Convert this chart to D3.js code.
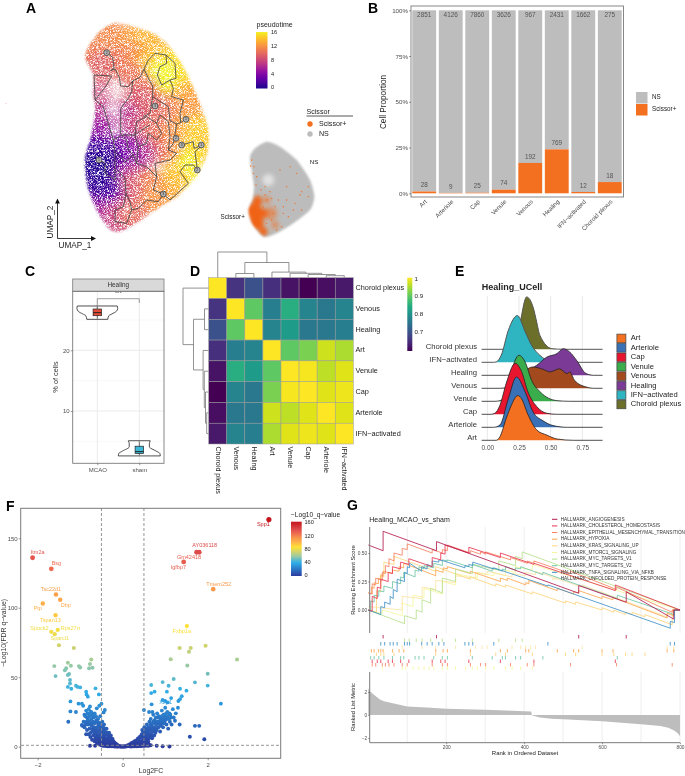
<!DOCTYPE html>
<html><head><meta charset="utf-8">
<style>
html,body{margin:0;padding:0;background:#fff}
svg{display:block;filter:blur(0.4px)}
text{font-family:"Liberation Sans",Arial,sans-serif}
</style>
<script src="https://cdn.jsdelivr.net/npm/d3@7/dist/d3.min.js"></script>
</head><body><div id="c"></div>
<script>
const blobOutline=[[345,68],[310,85],[285,110],[262,145],[255,175],[270,205],[280,230],[278,280],[285,320],[280,370],[270,420],[255,470],[255,510],[262,560],[280,610],[300,650],[330,690],[360,695],[400,675],[440,650],[490,615],[540,585],[590,530],[620,470],[627,410],[620,365],[600,310],[575,250],[545,190],[510,140],[470,105],[420,85],[380,72]];
const pseudoAnchors=[[330,100,11.5],[300,130,11.5],[275,165,11],[350,130,11.5],[400,115,12.5],[440,120,13.5],[480,150,13.5],[395,170,11],[340,190,10.5],[300,200,9.5],[420,180,12],[460,190,14],[510,190,15],[540,230,15],[500,270,15],[490,225,16],[560,290,13],[590,320,12.5],[540,340,12],[480,320,10.5],[430,270,10],[390,230,10.5],[440,320,9.5],[400,300,9],[350,280,9],[300,290,8],[310,350,6.5],[370,350,6.5],[420,380,8],[470,380,10],[520,400,11.5],[570,390,13],[605,390,14.5],[605,450,14],[575,460,15],[560,520,15.5],[540,500,16],[520,540,14],[500,450,12],[460,450,10],[420,460,6.5],[370,440,4.5],[385,490,4.5],[350,480,3.5],[300,400,5],[360,540,4.5],[410,530,7],[450,550,11],[500,590,13],[460,600,12],[420,600,12],[385,570,9],[340,600,6.5],[300,610,5],[340,650,7],[370,670,8],[400,640,10],[320,560,2],[285,550,1],[320,460,1.5],[285,450,1.5],[275,490,.5],[300,500,.3]];
const sparseAreas=[[350,270,32],[340,330,26],[350,385,20],[300,280,14]];
const trajectory=[
[[320,158],[338,172],[342,205],[332,212],[345,207],[358,232],[362,258],[385,260],[398,243],[395,275],[385,295],[362,325],[362,402]],
[[398,243],[420,232],[432,207],[445,235],[458,258],[458,290],[450,340],[430,350]],
[[432,207],[445,180],[465,160],[498,165],[525,190],[528,235],[510,240],[520,265],[515,290],[550,300],[540,340],[542,368],[555,358]],
[[498,165],[500,190],[480,200],[472,225],[485,255],[510,240]],
[[458,290],[505,320],[510,362],[530,372],[542,368]],
[[530,372],[520,430],[505,450],[530,460],[510,480],[465,490],[470,530],[440,500],[410,490],[400,465],[375,485],[350,460]],
[[545,435],[580,425],[582,445],[605,437],[585,455],[592,510],[580,495],[555,495],[540,515],[565,550],[510,600],[490,582],[475,605],[440,600],[415,625],[395,630],[390,605],[378,580],[375,535],[352,510]],
[[345,650],[345,630],[370,620],[378,580]],[[345,650],[345,665],[380,670],[395,630]],
[[297,480],[315,490],[315,520],[345,540],[345,460],[340,420],[325,370],[310,320],[285,300],[282,225],[335,228],[318,258],[285,300]],
[[340,420],[365,405],[405,405],[410,365],[440,350],[470,370],[480,345],[505,365],[510,410],[505,450]],
[[405,405],[415,440],[440,430],[445,400],[470,420],[485,400],[470,370]],[[405,405],[425,390],[450,375]],
[[365,405],[380,420],[385,450],[400,465]],[[415,440],[410,490]],[[470,530],[460,570],[490,582]]];
const trajNodes=[[320,158,"2"],[297,480,"1"],[465,318,"3"],[558,358,"1"],[528,415,"2"],[545,435,"3"],[604,435,"1"],[592,510,"2"],[490,582,"3"]];
const pseudoTicks=[0,4,8,12,16];

const smallOutline=[[800,425],[765,445],[750,470],[755,510],[762,560],[758,595],[745,630],[755,670],[790,711],[830,700],[880,670],[930,630],[943,590],[930,540],[890,480],[840,440]];
const orangeMass=[[762,635,26],[772,603,15],[770,668,22],[790,695,13],[790,640,14]];
const orangePale=[[812,640,20],[800,600,12],[825,675,12]];
const orangeSpecks=[[755,480],[752,498],[760,520],[768,555],[775,590],[900,585],[880,630],[850,640],[835,600],[860,560],[890,520],[905,575],[820,640],[800,600],[815,660],[790,620],[800,670],[845,680],[865,650],[925,590],[885,610],[830,690],[905,630],[850,620],[840,510],[870,500],[925,560],[810,575],[795,560],[825,620],[860,600],[762,500],[770,530],[783,570],[795,585],[815,595]];
const scissorLabels=["Scissor+","NS"];

/* ---------- B ---------- */
const cellTypes=["Art","Arteriole","Cap","Venule","Venous","Healing","IFN\u2212activated","Choroid plexus"];
const nsCounts=[2851,4126,7860,3626,967,2431,1662,275];
const scissorCounts=[28,9,25,74,192,769,12,18];
const propTicks=[0,.25,.5,.75,1];

/* ---------- C ---------- */
const groupsC=["MCAO","sham"];
const violinMCAO=[[25.1,.5],[25.7,.55],[26,.7],[26.4,.9],[26.9,.97],[27.3,.95]];
const violinSham=[[2.6,1],[3.0,.98],[3.4,.8],[4.1,.48],[4.6,.48],[5.1,.52]];
const boxMCAO=[25.2,25.7,26.2,26.8,27.2];
const boxSham=[2.7,3.0,3.3,4.2,5.0];

/* ---------- D ---------- */
const heatLabels=["Choroid plexus","Venous","Healing","Art","Venule","Cap","Arteriole","IFN\u2212activated"];
const heatValues=[
[1,.66,.70,.655,.62,.60,.615,.625],
[.66,1,.90,.77,.85,.78,.76,.78],
[.70,.90,1,.78,.82,.76,.76,.77],
[.655,.77,.78,1,.90,.92,.97,.95],
[.62,.85,.82,.90,1,.995,.96,.98],
[.60,.78,.76,.92,.995,1,.98,.99],
[.615,.76,.76,.97,.96,.98,1,.98],
[.625,.78,.77,.95,.98,.99,.98,1]];
const heatTree=[25.5,[0],[15,[4,[1],[2]],[5.4,[3],[4.2,[4],[3,[5],[1.8,[6],[7]]]]]]];
const heatTicks=[.7,.8,.9,1];

/* ---------- E ---------- */
const ridgeNames=["Art","Arteriole","Cap","Venule","Venous","Healing","IFN\u2212activated","Choroid plexus"];
const ridgeColors=["#f37021","#3a70b5","#e8152f","#3bac4b","#a24a1e","#7c3a97","#2fb5c2","#6b6f2a"];
const ridgeArt=[[-.045,0],[.07,0],[.10,.28],[.15,1.7],[.19,2.7],[.24,3.44],[.27,3.2],[.32,2],[.39,.8],[.47,.4],[.55,.1],[.68,0],[.91,0]];
const ridgeArteriole=[[-.045,0],[.05,0],[.10,.18],[.166,2.2],[.23,3.87],[.30,2.7],[.36,1.2],[.44,.5],[.52,.13],[.63,0],[.91,0]];
const ridgeCap=[[-.045,0],[.03,0],[.06,.08],[.10,.7],[.15,2.4],[.22,3.92],[.27,3.3],[.32,1.75],[.39,.6],[.47,.08],[.55,0],[.91,0]];
const ridgeVenule=[[-.045,0],[.06,0],[.10,.05],[.15,.46],[.19,2.25],[.25,3.54],[.30,3],[.35,1.6],[.42,.7],[.55,.05],[.65,0],[.91,0]];
const ridgeVenous=[[-.045,0],[.1,0],[.18,.1],[.25,.6],[.32,1.5],[.36,1.64],[.44,1.46],[.495,1.26],[.57,1.5],[.63,1.13],[.65,1.26],[.69,.6],[.78,.1],[.84,0],[.91,0]];
const ridgeHealing=[[-.045,0],[.15,0],[.25,.1],[.39,.77],[.47,1.4],[.55,1.67],[.6,2.05],[.65,1.8],[.705,1.15],[.78,.13],[.84,0],[.91,0]];
const ridgeIFN=[[-.045,0],[.05,0],[.07,.03],[.11,.54],[.166,2.46],[.237,3.6],[.3,2.33],[.35,1.3],[.415,.54],[.495,.08],[.57,0],[.91,0]];
const ridgeChoroid=[[-.045,0],[.17,0],[.2,.1],[.23,.8],[.26,2.1],[.31,4.03],[.363,3.2],[.39,2.1],[.415,1.08],[.51,.05],[.6,0],[.91,0]];
const ridgeSeries=[ridgeArt,ridgeArteriole,ridgeCap,ridgeVenule,ridgeVenous,ridgeHealing,ridgeIFN,ridgeChoroid];
const ridgeTicks=[0,.25,.5,.75];

/* ---------- F ---------- */
const volcanoHigh=[[3.44,163.5],[1.74,140],[1.80,140],[1.435,133],[2.13,113.4],[1.51,86.8],[-2.12,136],[-1.68,128],[-1.57,109.6],[-1.47,105.8],[-1.88,103],[-1.58,94.7],[-1.68,82.7],[-1.53,84],[-1.6,81],[-1.5,73],[-1.15,71]];
const volcanoMid=[[1.34,71],[1.6,71],[1.56,68.3],[1.95,72.7],[1.13,63],[2.69,62.8],[1.52,58.5],[2.0,52.5],[1.2,48.7],[-1.61,58],[-1.29,60.4],[-1.22,58.3],[-1.36,55],[-1.33,56.4],[-1.03,58],[-1,57],[-.74,62.8],[-.77,59.5],[-.71,56.8],[-.79,56.4],[-1.58,50.8],[-1.26,52.3],[-1.29,51.6],[-1.24,48],[-1.24,45.5],[-1.29,43],[-1.21,41.7],[-1.1,43.9],[-1.06,43],[-1,42.7],[-.86,39.6],[-.85,37.6],[-.82,36],[-.64,42],[-.56,37.6],[-1.23,32.6],[.67,44.4],[.94,46.5],[1.08,43.9],[.67,38.6],[.75,39.6],[1.04,39.6],[1.35,41.7],[1.5,40.3],[1.7,46.3],[2,44],[1.39,36.4],[1.35,34.3],[1.31,32.9],[1.14,35],[.94,33.6],[1,32.9],[1.06,31.9],[2.31,31],[.68,30.5],[.5,26.4],[.62,25],[.7,25]];
const volcanoLowLeft=[[-1.28,18],[-1.23,25.4],[-1.1,25],[-1.04,31],[-.96,31],[-.93,29.5],[-.77,29],[-.5,31],[-.55,29.5],[-.61,27.6],[-.42,26.4],[-.45,24.7],[-.96,15.6],[-.86,8.9],[-.77,.7],[-.65,.7],[-.95,15],[-.9,14],[-.88,22],[-.86,26],[-.85,18],[-.84,12],[-.83,24],[-.82,20],[-.81,16],[-.8,27],[-.79,22],[-.78,13],[-.77,18],[-.76,25],[-.75,10],[-.74,20],[-.73,15],[-.72,23],[-.71,12],[-.7,18],[-.69,8],[-.68,21],[-.67,14],[-.66,10],[-.65,17],[-.64,6],[-.63,12],[-.62,19],[-.61,9],[-.6,14],[-.59,5],[-.58,11],[-.57,16],[-.56,7],[-.55,12],[-.54,3],[-.53,9],[-.52,14],[-.51,6],[-.5,10],[-.49,4],[-.48,12],[-.47,8],[-.46,2],[-.45,6],[-.44,10],[-.43,3],[-.42,7],[-.41,13],[-.4,5],[-.39,2],[-.38,9],[-.37,4],[-.36,6],[-.35,1.5],[-.34,5],[-.33,3],[-.32,7],[-.31,1],[-.3,4],[-.29,2.5],[-.28,5],[-.27,1],[-.26,3],[-.25,2],[-.24,3.5],[-.23,1],[-.22,2],[-.21,.7],[-.2,1.5],[-.18,1],[-.16,.5],[-.14,1],[-.12,.4],[-.1,.3],[-.08,.4],[-.06,.2],[-.04,.2],[-.02,.1],[-.72,5],[-.66,4],[-.6,2.5],[-.55,1.5],[-.5,1],[-.47,.6],[-.43,.6],[-.39,.5],[-.35,.4],[-.31,.3],[-.27,.3],[-.23,.3],[-.19,.2],[-.15,.2],[-.52,2],[-.48,1.6],[-.44,1.2],[-.4,1],[-.36,.8],[-.33,1],[-.76,7],[-.8,9],[-.58,8],[-.62,4],[-.68,11]];
const volcanoExtraLeft=[[-.92,18],[-.9,23],[-.87,16],[-.84,21],[-.8,18],[-.78,24],[-.74,25],[-.7,22],[-.68,17],[-.66,24],[-.63,22],[-.6,18],[-.58,20],[-.55,17],[-.53,22],[-.5,15],[-.48,18],[-.46,14],[-.44,16],[-.42,11],[-.4,9],[-.38,13],[-.36,10],[-.34,8],[-.32,10],[-.3,7],[-.28,8],[-.26,6],[-.24,5.5],[-.22,4],[-.2,3],[-.18,2.5],[-.16,2],[-.14,1.5],[-.12,1],[-.56,4],[-.5,5],[-.46,4],[-.42,4.5],[-.38,3],[-.34,2.5],[-.3,2],[-.26,1.5],[-.22,.8],[-.18,.5],[-.12,.2],[-.62,7],[-.7,13],[-.74,16],[-.65,11],[-.54,6]];
const volcanoLowRight=[[1.7,15],[1.8,15],[1.58,7.2],[1.92,5.3],[1.34,16],[1.23,18.7],[1.11,18],[.94,.3],[1.1,.2],[.8,.7],[.6,.7],[0,.1],[.02,.1],[.04,.2],[.06,.2],[.08,.3],[.1,.3],[.12,.5],[.14,.7],[.16,.4],[.18,1],[.2,1.2],[.22,.6],[.24,1.7],[.26,2.4],[.28,1.1],[.3,3],[.32,1.6],[.34,4],[.36,2.2],[.38,5],[.4,3],[.42,7],[.43,1],[.44,4],[.45,9],[.46,2],[.47,6],[.48,11],[.49,3],[.5,8],[.51,14],[.52,5],[.53,10],[.54,2],[.55,7],[.56,12],[.57,16],[.58,4],[.59,9],[.6,14],[.61,6],[.62,11],[.63,18],[.64,8],[.65,13],[.66,20],[.67,9],[.68,15],[.69,6],[.7,11],[.71,17],[.72,23],[.73,13],[.74,8],[.75,19],[.76,14],[.77,10],[.78,21],[.79,16],[.8,12],[.81,24],[.82,18],[.84,14],[.85,22],[.86,17],[.88,11],[.89,20],[.9,15],[.92,26],[.93,19],[.95,14],[.96,23],[.98,17],[1,28],[1.01,21],[1.03,16],[1.05,25],[1.07,13],[1.09,20],[1.12,23],[1.15,16],[1.18,27],[1.2,21],[1.25,24],[1.3,28],[.66,1],[.62,1],[.56,.8],[.52,.7],[.48,.6],[.44,.5],[.4,.5],[.36,.4],[.32,.3],[.28,.3],[.24,.3],[.2,.2],[.58,2],[.54,1.6],[.5,1.4],[.46,1],[.42,.9],[.38,1]];
const volcanoExtraRight=[[.12,1],[.16,1.6],[.2,2.4],[.24,3],[.28,4],[.32,4.5],[.36,6],[.4,7],[.44,8],[.46,12],[.48,7],[.5,4],[.52,9],[.54,13],[.56,5],[.58,11],[.6,4],[.62,8],[.64,12],[.66,16],[.68,7],[.7,14],[.72,18],[.74,11],[.76,17],[.78,12],[.8,17],[.82,21],[.84,18],[.86,21],[.88,16],[.9,19],[.92,22],[.94,17],[.96,20],[.98,22],[1,19],[1.02,24],[1.04,20],[1.06,22],[1.1,24],[1.14,21],[.3,1.4],[.36,1.2],[.42,2.5],[.48,2],[.54,3],[.6,2.5],[.5,2.8],[.34,2.4],[.4,1.6]];
const volcanoLabels=[["Spp1",3.31,159.9,163.5],["AY036118",1.93,144.9,140],["Gm42418",1.56,136.4,133],["Igfbp7",1.31,129,133],["Tmem252",2.26,116.8,113.4],["Fxbp1a",1.39,82.7,86.8],["Itm2a",-2,139.8,136],["Bsg",-1.56,131.7,128],["Tsc22d1",-1.69,113.2,109.6],["Dbp",-1.34,101.9,105.8],["Ptp",-2,99.5,103],["Tspan13",-1.7,90.9,94.7],["Spock2",-1.96,84.7,82.7],["Rps27rt",-1.23,84.7,84],["Sparcl1",-1.48,77.5,81],["Xbp1",1.01,31.7,36]];
const qStops=[0,20,40,60,73,87,105,113,128,140,163];
const qColors=["#2c3b9e","#2a76c6","#30aee8","#9fcba0","#d2d36a","#ffe135","#ffa94d","#f79a4a","#ef6a50","#dd4b4b","#c4161c"];
const qTicks=[0,40,80,120,160];

/* ---------- G ---------- */
const gseaNames=["HALLMARK_ANGIOGENESIS","HALLMARK_CHOLESTEROL_HOMEOSTASIS","HALLMARK_EPITHELIAL_MESENCHYMAL_TRANSITION","HALLMARK_HYPOXIA","HALLMARK_KRAS_SIGNALING_UP","HALLMARK_MTORC1_SIGNALING","HALLMARK_MYC_TARGETS_V1","HALLMARK_MYC_TARGETS_V2","HALLMARK_TNFA_SIGNALING_VIA_NFKB","HALLMARK_UNFOLDED_PROTEIN_RESPONSE"];
const gseaColors=["#b2184f","#e8334f","#f8805f","#fba44a","#fdd47a","#f5f79b","#b7e08a","#6cc4a4","#3d8fc6","#fde3a4"];
const esAngio=[[0,.57],[38,.52],[38,.69],[175,.52],[175,.60],[540,.147],[540,.215],[662,.068],[662,.16],[784,-.08],[784,0],[800,0]];
const esChol=[[0,0],[10,-.01],[10,.12],[23,.10],[23,.20],[32,.19],[32,.27],[51,.25],[51,.33],[62,.32],[62,.38],[83,.36],[83,.42],[104,.40],[104,.45],[164,.38],[164,.46],[186,.44],[186,.50],[197,.49],[197,.57],[258,.50],[258,.55],[339,.46],[339,.50],[425,.40],[425,.41],[634,.17],[634,.22],[800,0]];
const esEMT=[[0,.15],[10,.14],[10,.23],[19,.22],[19,.28],[36,.26],[36,.33],[44,.32],[44,.39],[53,.38],[53,.45],[66,.43],[66,.50],[87,.48],[87,.54],[100,.53],[100,.58],[164,.50],[164,.53],[190,.50],[190,.53],[203,.52],[203,.57],[262,.50],[262,.52],[288,.49],[288,.51],[301,.49],[301,.51],[365,.44],[365,.46],[408,.41],[408,.43],[425,.41],[425,.43],[519,.32],[519,.34],[637,.18],[637,.20],[780,-.02],[780,0],[800,0]];
const esHypoxia=[[0,.15],[8,.14],[8,.20],[15,.19],[15,.24],[26,.23],[26,.28],[32,.27],[32,.31],[38,.30],[38,.34],[62,.32],[62,.35],[79,.34],[79,.38],[91,.37],[91,.41],[173,.30],[173,.35],[192,.33],[192,.37],[203,.36],[203,.38],[262,.32],[262,.34],[339,.25],[339,.28],[357,.26],[357,.28],[404,.22],[404,.24],[412,.23],[412,.26],[485,.17],[485,.19],[527,.14],[527,.16],[540,.15],[540,.17],[600,.10],[600,.12],[628,.09],[628,.11],[767,-.07],[767,-.03],[784,-.05],[784,.01],[800,0]];
const esKras=[[0,0],[21,-.02],[21,.17],[32,.16],[32,.30],[40,.29],[40,.42],[66,.40],[66,.47],[173,.34],[173,.38],[262,.27],[262,.29],[327,.21],[327,.23],[352,.20],[352,.22],[421,.14],[421,.16],[506,.06],[506,.08],[532,.05],[532,.07],[600,0],[600,.02],[630,-.02],[630,0],[660,-.04],[660,-.02],[677,-.04],[677,-.02],[710,-.06],[710,-.04],[780,-.13],[780,0],[800,0]];
const esMtorc=[[0,0],[36,-.03],[36,0],[87,-.05],[87,.06],[115,.03],[115,.13],[143,.11],[143,.19],[190,.14],[190,.25],[224,.22],[224,.32],[280,.28],[280,.33],[322,.30],[322,.33],[352,.30],[352,.35],[378,.33],[378,.38],[421,.35],[421,.40],[800,0]];
const esMyc1=[[0,0],[93,-.12],[93,-.05],[123,-.08],[123,0],[138,-.02],[138,.09],[160,.06],[160,.19],[190,.15],[190,.28],[224,.25],[224,.36],[267,.32],[267,.40],[335,.35],[335,.43],[378,.39],[378,.47],[395,.45],[395,.51],[785,.02],[800,0]];
const esMyc2=[[0,0],[6,-.01],[6,.08],[15,.07],[15,.13],[27,.12],[27,.17],[40,.16],[40,.21],[62,.19],[62,.25],[83,.23],[83,.29],[91,.28],[91,.33],[120,.29],[120,.35],[130,.34],[130,.38],[143,.36],[143,.39],[168,.37],[168,.41],[190,.39],[190,.44],[203,.43],[203,.44],[267,.37],[267,.40],[318,.34],[318,.37],[344,.34],[344,.36],[352,.35],[352,.38],[378,.35],[378,.37],[391,.36],[391,.38],[448,.31],[448,.33],[639,.10],[639,.13],[785,-.04],[785,0],[800,0]];
const esTnfa=[[0,0],[32,-.04],[32,.03],[42,.02],[42,.07],[56,.05],[56,.12],[64,.10],[64,.18],[74,.16],[74,.27],[93,.25],[93,.33],[100,.32],[100,.38],[106,.37],[106,.41],[137,.34],[137,.38],[151,.36],[151,.40],[164,.38],[164,.43],[181,.42],[181,.44],[194,.43],[248,.37],[248,.39],[258,.38],[258,.40],[268,.39],[268,.42],[322,.36],[322,.37],[461,.21],[461,.22],[775,-.16],[775,-.10],[786,-.11],[786,0],[800,0]];
const esUnfolded=[[0,.03],[87,0],[87,.12],[138,.10],[138,.20],[173,.18],[173,.26],[224,.24],[224,.30],[275,.28],[275,.33],[305,.31],[305,.34],[369,.29],[369,.32],[404,.30],[404,.33],[429,.31],[429,.34],[549,.20],[549,.22],[767,-.06],[767,-.02],[784,-.04],[784,0],[800,0]];
const esSeries=[esAngio,esChol,esEMT,esHypoxia,esKras,esMtorc,esMyc1,esMyc2,esTnfa,esUnfolded];
const rugRows=[
{c:"#b2184f",r:[38,175,540,662]},
{c:"#b7e08a",r:[93,105,123,138,160,190,224,267,335,378,395]},
{c:"#3d8fc6",r:[32,42,56,64,74,93,100,106,137,151,164,181,194,248,258,268,322,461,775,786]},
{c:"#fde3a4",r:[87,138,173,224,275,292,305,369,391,404,416,429,549,767,784]},
{c:"#fba44a",r:[8,15,26,32,38,62,79,91,173,192,203,262,339,357,404,412,485,527,540,600,628,767,784]},
{c:"#fdd47a",r:[21,32,40,66,173,262,327,352,421,506,532,600,630,660,677,710]},
{c:"#6cc4a4",r:[6,15,27,40,62,83,91,120,130,143,168,190,203,267,318,344,352,378,391,448,639]},
{c:"#e8334f",r:[10,23,32,51,62,83,104,164,186,197,258,339,425,634]},
{c:"#f8805f",r:[10,19,36,44,53,66,87,100,164,190,203,262,288,301,365,408,425,519,637,780]},
{c:"#f5f79b",r:[36,87,96,115,130,143,156,168,190,203,224,250,267,280,301,322,352,369,391,421]}];
const metricRanks=[0,5,10,20,30,40,60,80,100,150,200,300,400,418,420,440,470,500,600,700,750,770,785,795,800];
const metricValues=[2.3,2.05,1.9,1.6,1.35,1.2,1.05,.9,.75,.65,.55,.45,.33,.3,-.02,-.22,-.32,-.38,-.55,-.8,-.95,-1.1,-1.35,-1.6,-1.85];
const esTicks=[0,.25,.5],metricTicks=[-2,0,2],rankTicks=[200,400,600,800];

/* ---------- drawing ---------- */
const W=685,H=776;
const svg=d3.select("#c").append("svg").attr("width",W).attr("height",H).attr("viewBox",`0 0 ${W} ${H}`);
const defs=svg.append("defs");
const TXT="#4d4d4d",FRAME="#7a7a7a";
function t(g,x,y,s,o={}){
  const e=g.append("text").attr("x",x).attr("y",y).text(s)
   .attr("font-size",o.size||6).attr("fill",o.fill||"#222").attr("text-anchor",o.anchor||"start")
   .attr("dominant-baseline",o.base||"middle");
  if(o.weight)e.attr("font-weight",o.weight);
  if(o.rot!=null)e.attr("transform",`rotate(${o.rot} ${x} ${y})`);
  return e;
}
function styleAxis(a,size){a.select(".domain").remove();a.selectAll("text").attr("font-size",size||5.5).attr("fill",TXT).attr("font-family",'"Liberation Sans",Arial,sans-serif');a.selectAll("line").attr("stroke","#555").attr("stroke-width",.6);return a;}

/* panel letters */
[["A",26,13],["B",368,13],["C",25,276],["D",190,276],["E",455,276],["F",6,511],["G",347,510]].forEach(d=>t(svg,d[1],d[2],d[0],{size:14,weight:"bold",fill:"#000",base:"auto"}));

/* A */
const ua=d3.scaleLinear().domain([0,360]).range([0,120]), va=d3.scaleLinear().domain([0,260]).range([0,86.67]);
const closed=d3.line().x(d=>ua(d[0])).y(d=>va(d[1])).curve(d3.curveCardinalClosed.tension(.3));
const plasma=d3.scaleSequential(d3.interpolatePlasma).domain([-0.3,16.3]);
const noiseFilter=(id,freq,a,b)=>{
  const f=defs.append("filter").attr("id",id).attr("x",0).attr("y",0).attr("width",W).attr("height",H).attr("filterUnits","userSpaceOnUse").attr("primitiveUnits","userSpaceOnUse");
  f.append("feTurbulence").attr("type","fractalNoise").attr("baseFrequency",freq).attr("numOctaves",1).attr("seed",7).attr("result","n");
  f.append("feColorMatrix").attr("in","n").attr("type","matrix").attr("values",`0 0 0 0 0 0 0 0 0 0 0 0 0 0 0 ${a} 0 0 0 ${b}`).attr("result","m");
  f.append("feGaussianBlur").attr("in","m").attr("stdDeviation",.35).attr("result","ms");
  f.append("feComposite").attr("in","SourceGraphic").attr("in2","ms").attr("operator","in");
};
noiseFilter("speckle",1.7,4,-1.25);
const blurF=(id,s)=>defs.append("filter").attr("id",id).attr("x","-30%").attr("y","-30%").attr("width","160%").attr("height","160%").append("feGaussianBlur").attr("stdDeviation",s);
blurF("b5",5);blurF("b1",1.1);blurF("b3",2.2);
const m1=defs.append("mask").attr("id","mBlob").attr("maskUnits","userSpaceOnUse").attr("x",0).attr("y",0).attr("width",W).attr("height",H);
m1.append("path").attr("d",closed(blobOutline)).attr("fill","#fff").attr("filter","url(#b1)");
const gA=svg.append("g");
const cloud=gA.append("g").attr("mask","url(#mBlob)").append("g").attr("filter","url(#speckle)");
const cb=cloud.append("g").attr("filter","url(#b5)");
cb.selectAll("circle").data(pseudoAnchors).join("circle").attr("cx",d=>ua(d[0])).attr("cy",d=>va(d[1])).attr("r",15).attr("fill",d=>plasma(d[2]));
gA.append("g").attr("filter","url(#b5)").selectAll("circle").data(sparseAreas).join("circle").attr("cx",d=>ua(d[0])).attr("cy",d=>va(d[1])).attr("r",d=>ua(d[2])).attr("fill","#fff").attr("opacity",.72);
const lineA=d3.line().x(d=>ua(d[0])).y(d=>va(d[1]));
gA.append("g").selectAll("path").data(trajectory).join("path").attr("d",lineA).attr("fill","none").attr("stroke","#474747").attr("stroke-width",.85).attr("stroke-linejoin","round");
const nodeG=gA.append("g").selectAll("g").data(trajNodes).join("g");
nodeG.append("circle").attr("cx",d=>ua(d[0])).attr("cy",d=>va(d[1])).attr("r",2.9).attr("fill","#b5b5b5").attr("stroke","#333").attr("stroke-width",.7);
nodeG.append("text").attr("x",d=>ua(d[0])).attr("y",d=>va(d[1])).attr("text-anchor","middle").attr("dominant-baseline","middle").attr("font-size",3.5).attr("fill","#222").text(d=>d[2]);
t(gA,6,102.5,"..",{size:5,fill:"#e88ab0",anchor:"middle"});
const arrow=(x1,y1,x2,y2)=>{gA.append("line").attr("x1",x1).attr("y1",y1).attr("x2",x2).attr("y2",y2).attr("stroke","#222").attr("stroke-width",.9);};
arrow(57.5,238.5,57.5,201);arrow(57.5,238.5,93,238.5);
gA.append("path").attr("d","M57.5 198.5l-2.4 5h4.8z").attr("fill","#111");
gA.append("path").attr("d","M96 238.5l-5 -2.4v4.8z").attr("fill","#111");
t(gA,50.5,222,"UMAP_2",{size:8.2,anchor:"middle",rot:-90});
t(gA,75,246,"UMAP_1",{size:8.2,anchor:"middle"});
t(gA,256.5,25,"pseudotime",{size:7});
const psGrad=defs.append("linearGradient").attr("id","psG").attr("x1",0).attr("x2",0).attr("y1",1).attr("y2",0);
d3.range(0,1.001,.1).forEach(o=>psGrad.append("stop").attr("offset",o).attr("stop-color",plasma(o*16)));
gA.append("rect").attr("x",256).attr("y",32).attr("width",11.5).attr("height",56.5).attr("fill","url(#psG)");
const psY=d3.scaleLinear().domain([0,16]).range([88,32.5]);
pseudoTicks.forEach(v=>t(gA,271,psY(v),v,{size:5.6,fill:"#222"}));
/* small UMAP */
const sB=gA.append("g");
defs.append("mask").attr("id","mSmall").attr("maskUnits","userSpaceOnUse").attr("x",0).attr("y",0).attr("width",W).attr("height",H).append("path").attr("d",closed(smallOutline)).attr("fill","#fff").attr("filter","url(#b1)");
const sIn=sB.append("g").attr("mask","url(#mSmall)");
sIn.append("rect").attr("x",240).attr("y",130).attr("width",80).attr("height",115).attr("fill","#bcbcbc");
sIn.append("circle").attr("cx",ua(805)).attr("cy",va(540)).attr("r",6).attr("fill","#fff").attr("opacity",.55).attr("filter","url(#b3)");
sIn.append("g").attr("filter","url(#b3)").attr("opacity",.55).selectAll("circle").data(orangePale).join("circle").attr("cx",d=>ua(d[0])).attr("cy",d=>va(d[1])).attr("r",d=>ua(d[2])).attr("fill","#f37021");
sIn.append("g").attr("filter","url(#b3)").selectAll("circle").data(orangeMass).join("circle").attr("cx",d=>ua(d[0])).attr("cy",d=>va(d[1])).attr("r",d=>ua(d[2])).attr("fill","#f06414");
sB.append("g").selectAll("circle").data(orangeSpecks).join("circle").attr("cx",d=>ua(d[0])).attr("cy",d=>va(d[1])).attr("r",.7).attr("fill","#f37021");
t(gA,314,162.5,"NS",{size:6.2,anchor:"middle"});
t(gA,232.7,217.5,"Scissor+",{size:6.3,anchor:"middle"});
t(gA,306.5,112,"Scissor",{size:7.1});
gA.append("line").attr("x1",306.5).attr("x2",353).attr("y1",116).attr("y2",116).attr("stroke","#444").attr("stroke-width",.9);
scissorLabels.forEach((s,i)=>{const y=124+i*10;gA.append("circle").attr("cx",310).attr("cy",y).attr("r",2.7).attr("fill",i?"#bcbcbc":"#f37021");t(gA,319,y,s,{size:7.1});});

/* B */
const gB=svg.append("g");
const xB=d3.scaleBand().domain(cellTypes).range([411.5,622.5]).paddingInner(.1).paddingOuter(.03);
const yB=d3.scaleLinear().domain([0,1]).range([193.3,10.3]);
const totals=nsCounts.map((n,i)=>n+scissorCounts[i]);
gB.selectAll(".ns").data(cellTypes).join("rect").attr("x",d=>xB(d)).attr("width",xB.bandwidth()).attr("y",yB(1)).attr("height",(d,i)=>yB(scissorCounts[i]/totals[i])-yB(1)).attr("fill","#bdbdbd");
gB.selectAll(".sc").data(cellTypes).join("rect").attr("x",d=>xB(d)).attr("width",xB.bandwidth()).attr("y",(d,i)=>yB(scissorCounts[i]/totals[i])).attr("height",(d,i)=>yB(0)-yB(scissorCounts[i]/totals[i])).attr("fill","#f37021");
cellTypes.forEach((c,i)=>{
  t(gB,xB(c)+xB.bandwidth()/2,15,nsCounts[i],{size:6.4,anchor:"middle",fill:"#555"});
  t(gB,xB(c)+xB.bandwidth()/2,yB(scissorCounts[i]/totals[i])-6,scissorCounts[i],{size:6.4,anchor:"middle",fill:"#555"});
  t(gB,xB(c)+xB.bandwidth()/2+2,201,c,{size:6.1,anchor:"end",fill:TXT,rot:-45});
});
gB.append("rect").attr("x",411).attr("y",6).attr("width",212.5).attr("height",191).attr("fill","none").attr("stroke",FRAME).attr("stroke-width",.9);
styleAxis(gB.append("g").attr("transform","translate(411,0)").call(d3.axisLeft(yB).tickValues(propTicks).tickFormat(d3.format(".0%")).tickSize(2).tickPadding(1)),6.2);
t(gB,384,102,"Cell Proportion",{size:8.2,anchor:"middle",rot:-90});
[["NS","#bdbdbd",92],["Scissor+","#f37021",104]].forEach(d=>{gB.append("rect").attr("x",636).attr("y",d[2]).attr("width",11.5).attr("height",11.5).attr("fill",d[1]);t(gB,652,d[2]+5.8,d[0],{size:6.3});});

/* C */
const gC=svg.append("g");
const xC=d3.scalePoint().domain(groupsC).range([97.3,139.3]);
const yC=d3.scaleLinear().domain([0,20]).range([471.7,350.3]);
const wC=d3.scaleLinear().domain([0,1]).range([0,21]);
[5,15,25].forEach(v=>gC.append("line").attr("x1",73).attr("x2",164).attr("y1",yC(v)).attr("y2",yC(v)).attr("stroke","#f0f0f0").attr("stroke-width",.5));
[10,20].forEach(v=>gC.append("line").attr("x1",73).attr("x2",164).attr("y1",yC(v)).attr("y2",yC(v)).attr("stroke","#e6e6e6").attr("stroke-width",.8));
groupsC.forEach(g=>gC.append("line").attr("x1",xC(g)).attr("x2",xC(g)).attr("y1",291).attr("y2",463).attr("stroke","#e6e6e6").attr("stroke-width",.8));
[[groupsC[0],violinMCAO,boxMCAO,"#e64b35"],[groupsC[1],violinSham,boxSham,"#3db8d6"]].forEach(d=>{
  const c=xC(d[0]);
  const a=d3.area().y(p=>yC(p[0])).x0(p=>c-wC(p[1])).x1(p=>c+wC(p[1])).curve(d3.curveMonotoneY);
  gC.append("path").attr("d",a(d[1])+"Z").attr("fill","#fff").attr("stroke","#222").attr("stroke-width",.8);
  const b=d[2];
  gC.append("line").attr("x1",c).attr("x2",c).attr("y1",yC(b[0])).attr("y2",yC(b[4])).attr("stroke","#222").attr("stroke-width",.7);
  gC.append("rect").attr("x",c-4.2).attr("width",8.4).attr("y",yC(b[3])).attr("height",yC(b[1])-yC(b[3])).attr("fill",d[3]).attr("stroke","#222").attr("stroke-width",.7);
  gC.append("line").attr("x1",c-4.2).attr("x2",c+4.2).attr("y1",yC(b[2])).attr("y2",yC(b[2])).attr("stroke","#222").attr("stroke-width",1);
});
gC.append("path").attr("d",`M${xC("MCAO")} ${yC(26.6)}V298.7H${xC("sham")}V303`).attr("fill","none").attr("stroke","#777").attr("stroke-width",.7);
t(gC,118.3,293.7,"***",{size:6,anchor:"middle",fill:"#444"});
gC.append("rect").attr("x",72.7).attr("y",279).attr("width",91.3).attr("height",12.3).attr("fill","#d9d9d9").attr("stroke",FRAME).attr("stroke-width",.8);
t(gC,118.3,285.3,"Healing",{size:6.4,anchor:"middle",fill:"#333"});
gC.append("rect").attr("x",72.7).attr("y",291.3).attr("width",91.3).attr("height",172).attr("fill","none").attr("stroke",FRAME).attr("stroke-width",.9);
styleAxis(gC.append("g").attr("transform","translate(72.7,0)").call(d3.axisLeft(yC).tickValues([10,20]).tickSize(2).tickPadding(1)),6);
styleAxis(gC.append("g").attr("transform","translate(0,463.3)").call(d3.axisBottom(xC).tickSize(2).tickPadding(2)),6);
t(gC,56,377,"% of cells",{size:7.3,anchor:"middle",rot:-90,fill:"#333"});

/* D */
const gD=svg.append("g");
const xD=d3.scaleBand().domain(heatLabels).range([208.7,353.3]);
const yD=d3.scaleBand().domain(heatLabels).range([277.7,444]);
const heatC=d3.scaleSequential(d3.interpolateViridis).domain([.6,1]);
heatValues.forEach((row,i)=>gD.append("g").selectAll("rect").data(row).join("rect").attr("x",(d,j)=>xD(heatLabels[j])).attr("y",yD(heatLabels[i])).attr("width",xD.bandwidth()).attr("height",yD.bandwidth()).attr("fill",d=>heatC(d)).attr("stroke","#9a9a9a").attr("stroke-width",.5));
heatLabels.forEach(l=>{
  t(gD,355.5,yD(l)+yD.bandwidth()/2,l,{size:7.3,fill:"#222"});
  t(gD,xD(l)+xD.bandwidth()/2,446.5,l,{size:7.1,fill:"#222",rot:90});
});
function dend(node,pos,g){
  if(node.length===1)return {p:pos(heatLabels[node[0]]),h:0};
  const a=dend(node[1],pos,g),b=dend(node[2],pos,g);
  const h=node[0];
  g(a.p,a.h,b.p,b.h,h);
  return {p:(a.p+b.p)/2,h};
}
const dl=gD.append("g").attr("fill","none").attr("stroke","#777").attr("stroke-width",.8);
const posX=l=>xD(l)+xD.bandwidth()/2,posY=l=>yD(l)+yD.bandwidth()/2;
dend(heatTree,posX,(p1,h1,p2,h2,h)=>dl.append("path").attr("d",`M${p1} ${277.5-h1}V${277.5-h}H${p2}V${277.5-h2}`));
dend(heatTree,posY,(p1,h1,p2,h2,h)=>dl.append("path").attr("d",`M${208.5-h1} ${p1}H${208.5-h}V${p2}H${208.5-h2}`));
const vGrad=defs.append("linearGradient").attr("id","vG").attr("x1",0).attr("x2",0).attr("y1",1).attr("y2",0);
d3.range(0,1.001,.1).forEach(o=>vGrad.append("stop").attr("offset",o).attr("stop-color",d3.interpolateViridis(o)));
gD.append("rect").attr("x",407.3).attr("y",277.7).attr("width",5).attr("height",73.3).attr("fill","url(#vG)");
const yHC=d3.scaleLinear().domain([.6,1]).range([351,277.7]);
heatTicks.forEach(v=>t(gD,414.5,yHC(v)+(v===1?1.5:0),v,{size:6.2,fill:"#222"}));

/* E */
const gE=svg.append("g");
const xE=d3.scaleLinear().domain([0,.75]).range([487.3,582.3]);
const stepE=d3.scaleLinear().domain([0,1]).range([0,13]);
const base=i=>440.3-13*i;
ridgeTicks.forEach(v=>gE.append("line").attr("x1",xE(v)).attr("x2",xE(v)).attr("y1",296).attr("y2",441).attr("stroke","#e8e8e8").attr("stroke-width",1));
d3.range(7,-1,-1).forEach(i=>{
  const b=base(i);
  const a=d3.area().x(p=>xE(p[0])).y0(b).y1(p=>b-stepE(p[1])).curve(d3.curveMonotoneX);
  const l=d3.line().x(p=>xE(p[0])).y(p=>b-stepE(p[1])).curve(d3.curveMonotoneX);
  gE.append("path").attr("d",a(ridgeSeries[i])).attr("fill",ridgeColors[i]);
  gE.append("path").attr("d",l(ridgeSeries[i])).attr("fill","none").attr("stroke",i>=6?"#555":"#222").attr("stroke-width",i>=6?1:.8);
  t(gE,477,b-2.5,ridgeNames[i],{size:7.7,anchor:"end",fill:"#333"});
});
styleAxis(gE.append("g").attr("transform","translate(0,441)").call(d3.axisBottom(xE).tickValues(ridgeTicks).tickFormat(d3.format(".2f")).tickSize(0).tickPadding(4)),6.5);
t(gE,481.7,288,"Healing_UCell",{size:9,weight:"bold",fill:"#222"});
ridgeNames.forEach((n,i)=>{
  const y=338.3+i*9.44;
  gE.append("rect").attr("x",616.9).attr("y",y-4.2).attr("width",9).attr("height",8.6).attr("fill",ridgeColors[i]).attr("stroke","#444").attr("stroke-width",.7);
  t(gE,630.7,y,n,{size:7.6,fill:"#222"});
});

/* F */
const gF=svg.append("g");
const xF=d3.scaleLinear().domain([-2,2]).range([37.7,207.7]);
const yF=d3.scaleLinear().domain([0,150]).range([746.7,538.3]);
const qC=d3.scaleLinear().domain(qStops).range(qColors).clamp(true);
const rF=d3.scaleLinear().domain([0,40,80,165]).range([2,1.9,2.1,2.6]);
const volcano=[...volcanoLowLeft,...volcanoExtraLeft,...volcanoLowRight,...volcanoExtraRight,...volcanoMid,...volcanoHigh].sort((a,b)=>b[1]-a[1]);
gF.selectAll("circle").data(volcano).join("circle").attr("cx",d=>xF(d[0])).attr("cy",d=>yF(d[1])).attr("r",d=>rF(d[1])).attr("fill",d=>qC(d[1]));
[[xF(-.5),xF(-.5),508,758],[xF(.5),xF(.5),508,758],[21,280.7,yF(1),yF(1)]].forEach(d=>gF.append("line").attr("x1",d[0]).attr("x2",d[1]).attr("y1",d[2]).attr("y2",d[3]).attr("stroke","#8a8a8a").attr("stroke-width",.9).attr("stroke-dasharray","3 2"));
volcanoLabels.forEach(d=>t(gF,xF(d[1]),yF(d[2]),d[0],{size:5.5,anchor:"middle",fill:qC(d[3])}));
gF.append("rect").attr("x",20.7).attr("y",508.3).attr("width",260).attr("height",250).attr("fill","none").attr("stroke",FRAME).attr("stroke-width",1);
styleAxis(gF.append("g").attr("transform","translate(20.7,0)").call(d3.axisLeft(yF).tickValues([0,50,100,150]).tickSize(2).tickPadding(1)),6);
styleAxis(gF.append("g").attr("transform","translate(0,758.3)").call(d3.axisBottom(xF).tickValues([-2,0,2]).tickFormat(d=>d<0?"\u2212"+(-d):d).tickSize(2).tickPadding(2)),6);
t(gF,4.5,633,"\u2212Log10(FDR q\u2212value)",{size:6.9,anchor:"middle",rot:-90,fill:"#333"});
t(gF,151,771,"Log2FC",{size:6.9,anchor:"middle",fill:"#333"});
t(gF,291,515.5,"\u2212Log10_q\u2212value",{size:6.6,fill:"#222"});
const qGrad=defs.append("linearGradient").attr("id","qG").attr("x1",0).attr("x2",0).attr("y1",1).attr("y2",0);
qStops.forEach((s,i)=>qGrad.append("stop").attr("offset",s/163).attr("stop-color",qColors[i]));
gF.append("rect").attr("x",291).attr("y",521.7).attr("width",10.7).attr("height",54.3).attr("fill","url(#qG)");
const yQ=d3.scaleLinear().domain([0,160]).range([576,523]);
qTicks.forEach(v=>t(gF,304.5,yQ(v),v,{size:5.6,fill:"#222"}));

/* G */
const gG=svg.append("g");
const xG=d3.scaleLinear().domain([0,800]).range([368.3,680]);
const yG=d3.scaleLinear().domain([0,.5]).range([610,553]);
const yR=d3.scaleLinear().domain([0,2]).range([715,692]);
d3.range(100,801,100).forEach(v=>{
  [[527,633],[672,743]].forEach(r=>gG.append("line").attr("x1",xG(v)).attr("x2",xG(v)).attr("y1",r[0]).attr("y2",r[1]).attr("stroke","#ececec").attr("stroke-width",.9));
});
const lineG=d3.line().x(d=>xG(d[0])).y(d=>yG(d[1]));
[5,4,9,3,2,6,7,8,1,0].forEach(i=>gG.append("path").attr("d",lineG(esSeries[i])).attr("fill","none").attr("stroke",gseaColors[i]).attr("stroke-width",.95).attr("stroke-opacity",.88));
gG.append("path").attr("d","M369.7 527V633").attr("stroke",FRAME).attr("stroke-width",1);
t(gG,369.3,520,"Healing_MCAO_vs_sham",{size:7,fill:"#222"});
styleAxis(gG.append("g").attr("transform","translate(369.7,0)").call(d3.axisLeft(yG).tickValues(esTicks).tickFormat(d3.format(".2f")).tickSize(1.5).tickPadding(1)),4.8);
t(gG,353,580,"Running Enrichment Score",{size:5.8,anchor:"middle",rot:-90,fill:"#222"});
gseaNames.forEach((n,i)=>{
  const y=519.3+i*6.63;
  gG.append("line").attr("x1",552).attr("x2",557.3).attr("y1",y).attr("y2",y).attr("stroke",gseaColors[i]).attr("stroke-width",1);
  t(gG,560.7,y,n,{size:4.7,fill:"#333"});
});
rugRows.forEach((row,i)=>{
  const y=635+i*3.5;
  gG.append("g").selectAll("line").data(row.r).join("line").attr("x1",d=>xG(d)).attr("x2",d=>xG(d)).attr("y1",y).attr("y2",y+3.4).attr("stroke",row.c).attr("stroke-width",1.05).attr("stroke-opacity",.8);
});
const areaR=d3.area().x(d=>xG(d[0])).y0(yR(0)).y1(d=>yR(d[1]));
gG.append("path").attr("d",areaR(metricRanks.map((r,i)=>[r,metricValues[i]]))).attr("fill","#bdbdbd");
gG.append("path").attr("d","M369.7 672V742.7H680").attr("fill","none").attr("stroke",FRAME).attr("stroke-width",1);
styleAxis(gG.append("g").attr("transform","translate(369.7,0)").call(d3.axisLeft(yR).tickValues(metricTicks).tickFormat(d=>d<0?"\u2212"+(-d):d).tickSize(1.5).tickPadding(1)),4.8);
styleAxis(gG.append("g").attr("transform","translate(0,742.7)").call(d3.axisBottom(xG).tickValues(rankTicks).tickSize(1.5).tickPadding(1)),4.8);
t(gG,353,707,"Ranked List Metric",{size:5.8,anchor:"middle",rot:-90,fill:"#222"});
t(gG,525,753.5,"Rank in Ordered Dataset",{size:6,anchor:"middle",fill:"#222"});
</script></body></html>
